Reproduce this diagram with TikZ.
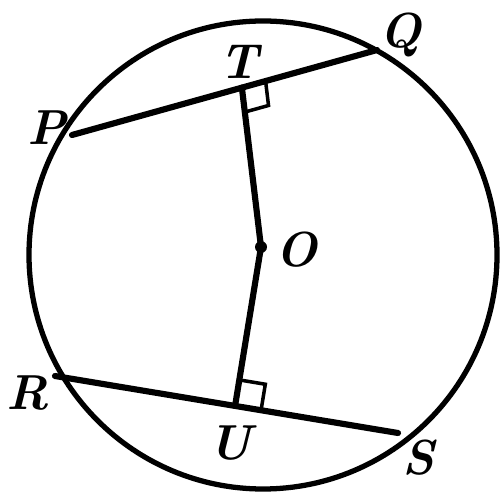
\documentclass[tikz,border=0pt]{standalone}
\usetikzlibrary{calc}
\tikzstyle{rim}=[line width=3pt]
\tikzstyle{chord}=[line width=3.5pt, line cap=round]
\tikzstyle{rightmark}=[line width=2pt]
\tikzstyle{lbl}=[font=\fontsize{28}{32}\selectfont\bfseries\itshape, inner sep=0pt]

\begin{document}
\begin{tikzpicture}[x=0.02cm, y=-0.02cm]
				\useasboundingbox (0,0) rectangle (504,493);
				% The circle and its centre
				\draw[rim] (263,255) circle (234);
				\coordinate (O) at (261,247);
				\fill (O) circle (6);

				% End points of the chords
				\coordinate (P) at ( 72,135);
				\coordinate (Q) at (377, 50);
				\coordinate (R) at ( 55,376);
				\coordinate (S) at (398,433);
				\coordinate (T) at ($(P)!0.557!(Q)$);
				\coordinate (U) at ($(R)!0.525!(S)$);

				\draw[chord] (P) -- (Q);
				\draw[chord] (R) -- (S);
				\draw[chord] (T) -- (O) -- (U);

				% Right angles at T and U
				\coordinate (tq) at ($(T)!14pt!(Q)$);
				\coordinate (to) at ($(T)!14pt!(O)$);
				\draw[rightmark] (tq) -- ($(tq)+(to)-(T)$) -- (to);
				\coordinate (us) at ($(U)!15pt!(S)$);
				\coordinate (uo) at ($(U)!15pt!(O)$);
				\draw[rightmark] (us) -- ($(us)+(uo)-(U)$) -- (uo);

				\node[lbl] (lP) at ( 47,128) {P};
				\node[lbl] (lQ) at (401, 35) {Q};
				\node[lbl] (lT) at (239, 62) {T};
				\node[lbl] (lO) at (297,250) {O};
				\node[lbl] (lR) at ( 28,393) {R};
				\node[lbl] (lU) at (230,443) {U};
				\node[lbl] (lS) at (418,458) {S};
			\end{tikzpicture}
\end{document}
